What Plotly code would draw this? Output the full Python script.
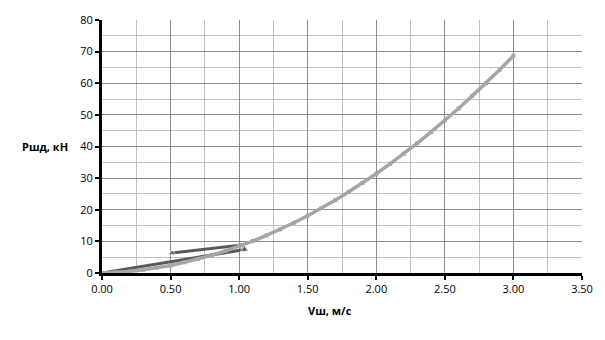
import plotly.graph_objects as go

# Speed, m/s and resulting force, kN
v_calc = [0.0, 0.1, 0.2, 0.3, 0.4, 0.5, 0.6, 0.7, 0.8, 0.9, 1.0,
          1.1, 1.2, 1.3, 1.4, 1.5, 1.6, 1.7, 1.8, 1.9, 2.0,
          2.1, 2.2, 2.3, 2.4, 2.5, 2.6, 2.7, 2.8, 2.9, 3.0]
p_calc = [0.0, 0.2, 0.5, 1.0, 1.7, 2.4, 3.4, 4.4, 5.6, 7.0, 8.5,
          10.1, 11.9, 13.8, 15.9, 18.1, 20.5, 23.0, 25.7, 28.5, 31.4,
          34.5, 37.7, 41.1, 44.6, 48.2, 52.0, 56.0, 60.0, 64.3, 68.7]

# Measured loop
v_meas = [0.0, 1.04, 1.03, 0.51]
p_meas = [0.0, 7.4, 8.9, 6.3]

x_ticks = [0.0, 0.5, 1.0, 1.5, 2.0, 2.5, 3.0, 3.5]
x_tick_text = ["0.00", "0.50", "1.00", "1.50", "2.00", "2.50", "3.00", "3.50"]
y_ticks = [0, 10, 20, 30, 40, 50, 60, 70, 80]

x_title = "Vш, м/с"
y_title = "Ршд, кН"

FONT = "Open Sans, DejaVu Sans, sans-serif"

fig = go.Figure()

# measured loop first so the calculated curve sits on top of it
fig.add_trace(go.Scatter(
    x=v_meas, y=p_meas, mode="lines+markers",
    line=dict(color="#595959", width=3),
    marker=dict(symbol=["square", "triangle-up", "circle", "triangle-up"],
                size=[5, 7, 3, 7], color="#595959"),
    showlegend=False,
))

fig.add_trace(go.Scatter(
    x=v_calc, y=p_calc, mode="lines+markers",
    line=dict(color="#a6a6a6", width=3.5),
    marker=dict(symbol="square", size=4, color="#a6a6a6"),
    showlegend=False,
))

fig.update_layout(
    width=605, height=340,
    margin=dict(l=102, r=23, t=14, b=67),
    paper_bgcolor="white", plot_bgcolor="white",
    font=dict(family=FONT, size=11, color="black"),
    xaxis=dict(
        range=[0, 3.5], tickvals=x_ticks, ticktext=x_tick_text,
        showline=True, linecolor="black", linewidth=3,
        ticks="outside", ticklen=4, tickwidth=2, tickcolor="black",
        showgrid=True, gridcolor="#8c8c8c", gridwidth=1,
        minor=dict(dtick=0.25, showgrid=True, gridcolor="#c0c0c0", gridwidth=1),
        zeroline=False, tickfont=dict(size=11),
    ),
    yaxis=dict(
        range=[0, 80], tickvals=y_ticks,
        showline=True, linecolor="black", linewidth=3,
        ticks="outside", ticklen=4, tickwidth=2, tickcolor="black",
        showgrid=True, gridcolor="#8c8c8c", gridwidth=1,
        minor=dict(dtick=5, showgrid=True, gridcolor="#c0c0c0", gridwidth=1),
        zeroline=False, tickfont=dict(size=11),
    ),
    annotations=[
        dict(text="<b>" + y_title + "</b>", xref="paper", yref="paper",
             x=-0.119, y=0.5, xanchor="center", yanchor="middle",
             showarrow=False, font=dict(size=11)),
        dict(text="<b>" + x_title + "</b>", xref="paper", yref="paper",
             x=0.475, y=-0.147, xanchor="center", yanchor="middle",
             showarrow=False, font=dict(size=11)),
    ],
)

fig.write_html("out.html")
